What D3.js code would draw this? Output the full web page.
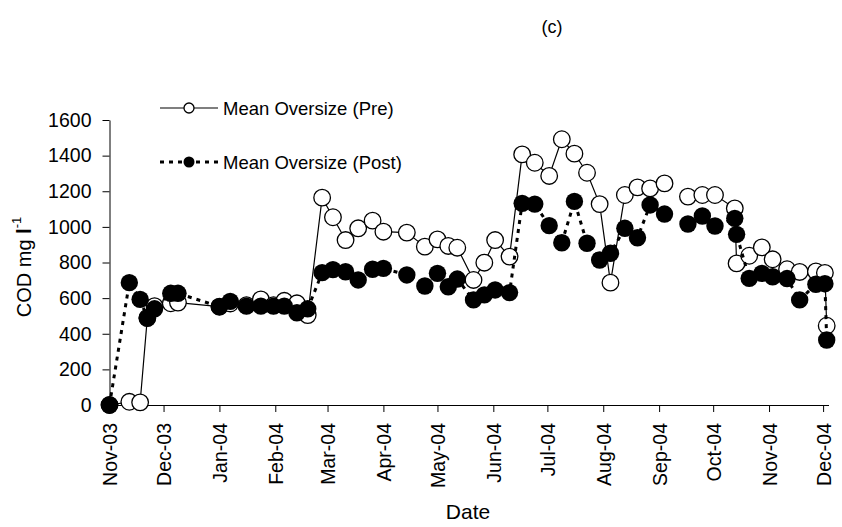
<!DOCTYPE html>
<html>
<head>
<meta charset="utf-8">
<title>COD mean oversize (c)</title>
<script src="https://cdn.jsdelivr.net/npm/d3@7"></script>
<style>
  body { margin: 0; background: #fff; font-family: Arial, "Liberation Sans", sans-serif; }
  .axis path, .axis line { stroke: #000; }
  .axis text { fill: #000; font-family: Arial, "Liberation Sans", sans-serif; }
</style>
</head>
<body>
<svg id="chart" width="842" height="527"></svg>
<script>
// sampling dates (the null row in the values = no sample, leaves a gap in both lines)
var dates = [
  "2003-11-01", "2003-11-12", "2003-11-18", "2003-11-22", "2003-11-26", "2003-12-05", "2003-12-09",
  "2004-01-01", "2004-01-07", "2004-01-16", "2004-01-24", "2004-01-31", "2004-02-06", "2004-02-13", "2004-02-19",
  "2004-02-27", "2004-03-04", "2004-03-11", "2004-03-18", "2004-03-26", "2004-04-01", "2004-04-14", "2004-04-24",
  "2004-05-01", "2004-05-07", "2004-05-12", "2004-05-21", "2004-05-27", "2004-06-02", "2004-06-10",
  "2004-06-17", "2004-06-24", "2004-07-02", "2004-07-09", "2004-07-16", "2004-07-23", "2004-07-30",
  "2004-08-05", "2004-08-13", "2004-08-20", "2004-08-27", "2004-09-04", "2004-09-10",
  "2004-09-17", "2004-09-25", "2004-10-02", "2004-10-13", "2004-10-14", "2004-10-21", "2004-10-28",
  "2004-11-03", "2004-11-11", "2004-11-18", "2004-11-27", "2004-12-02", "2004-12-03"
];

// COD (mg/l), mean oversize before treatment
var preValues = [
  0, 18, 15, 490, 555, 571, 575,
  552, 570, 560, 593, 560, 585, 571, 505,
  1164, 1054, 926, 992, 1035, 973, 968, 889,
  930, 893, 883, 702, 799, 926, 833,
  1407, 1360, 1286, 1492, 1411, 1304, 1128,
  687, 1179, 1222, 1216, 1244, null,
  1170, 1179, 1179, 1104, 795, 838, 885,
  818, 762, 747, 750, 742, 445
];

// COD (mg/l), mean oversize after treatment
var postValues = [
  0, 687, 593, 487, 540, 627, 627,
  552, 582, 555, 555, 555, 555, 518, 540,
  743, 760, 748, 702, 762, 767, 730, 668,
  739, 664, 707, 590, 618, 646, 631,
  1132, 1128, 1007, 911, 1143, 908, 814,
  852, 992, 939, 1123, 1072, null,
  1016, 1061, 1005, 1048, 958, 711, 739,
  720, 710, 590, 678, 681, 365
];

var yTicks = [0, 200, 400, 600, 800, 1000, 1200, 1400, 1600];
var seriesNames = ["Mean Oversize (Pre)", "Mean Oversize (Post)"];

var parse = d3.timeParse("%Y-%m-%d");
var rows = dates.map(function (d, i) {
  return { date: parse(d), pre: preValues[i], post: postValues[i] };
});

var svg = d3.select("#chart");
var plot = { left: 109.5, right: 828.5, top: 120, bottom: 405 };

var x = d3.scaleTime()
  .domain([parse("2003-11-01"), parse("2004-12-04")])
  .range([plot.left, plot.right]);

var y = d3.scaleLinear()
  .domain([0, 1600])
  .range([plot.bottom, plot.top]);

// x axis, monthly ticks, labels turned upright
var xAxis = d3.axisBottom(x)
  .ticks(d3.timeMonth.every(1))
  .tickFormat(d3.timeFormat("%b-%y"))
  .tickSize(7)
  .tickSizeOuter(0);

var gx = svg.append("g")
  .attr("class", "axis")
  .attr("transform", "translate(0," + plot.bottom + ")")
  .call(xAxis);
gx.selectAll("text")
  .attr("font-size", "19.5px")
  .attr("text-anchor", "end")
  .attr("transform", "rotate(-90)")
  .attr("x", -18)
  .attr("y", 0)
  .attr("dy", "0.36em");

// y axis
var yAxis = d3.axisLeft(y)
  .tickValues(yTicks)
  .tickFormat(d3.format("d"))
  .tickSize(7)
  .tickSizeOuter(0)
  .tickPadding(11);

var gy = svg.append("g")
  .attr("class", "axis")
  .attr("transform", "translate(" + plot.left + ",0)")
  .call(yAxis);
gy.selectAll("text").attr("font-size", "19.5px");

// lines
var linePre = d3.line()
  .defined(function (d) { return d.pre != null; })
  .x(function (d) { return x(d.date); })
  .y(function (d) { return y(d.pre); });

var linePost = d3.line()
  .defined(function (d) { return d.post != null; })
  .x(function (d) { return x(d.date); })
  .y(function (d) { return y(d.post); });

svg.append("path")
  .datum(rows)
  .attr("d", linePre)
  .attr("fill", "none")
  .attr("stroke", "#000")
  .attr("stroke-width", 1.2);

svg.append("g")
  .selectAll("circle")
  .data(rows.filter(function (d) { return d.pre != null; }))
  .join("circle")
  .attr("cx", function (d) { return x(d.date); })
  .attr("cy", function (d) { return y(d.pre); })
  .attr("r", 8.3)
  .attr("fill", "#fff")
  .attr("stroke", "#000")
  .attr("stroke-width", 1.3);

svg.append("path")
  .datum(rows)
  .attr("d", linePost)
  .attr("fill", "none")
  .attr("stroke", "#000")
  .attr("stroke-width", 3)
  .attr("stroke-dasharray", "4,5");

svg.append("g")
  .selectAll("circle")
  .data(rows.filter(function (d) { return d.post != null; }))
  .join("circle")
  .attr("cx", function (d) { return x(d.date); })
  .attr("cy", function (d) { return y(d.post); })
  .attr("r", 8.7)
  .attr("fill", "#000");

// legend
var legend = svg.append("g").attr("transform", "translate(160,108)");
legend.append("line")
  .attr("x1", 0).attr("x2", 58).attr("y1", 0).attr("y2", 0)
  .attr("stroke", "#000").attr("stroke-width", 1.2);
legend.append("circle")
  .attr("cx", 29).attr("cy", 0).attr("r", 5)
  .attr("fill", "#fff").attr("stroke", "#000").attr("stroke-width", 1.3);
legend.append("text")
  .attr("x", 63).attr("y", 6.5)
  .attr("font-size", "18.5px")
  .text(seriesNames[0]);

legend.append("line")
  .attr("x1", 0).attr("x2", 58).attr("y1", 54).attr("y2", 54)
  .attr("stroke", "#000").attr("stroke-width", 3)
  .attr("stroke-dasharray", "4,5");
legend.append("circle")
  .attr("cx", 29).attr("cy", 54).attr("r", 5.5)
  .attr("fill", "#000");
legend.append("text")
  .attr("x", 63).attr("y", 60.5)
  .attr("font-size", "18.5px")
  .text(seriesNames[1]);

// titles
svg.append("text")
  .attr("x", 552).attr("y", 33)
  .attr("text-anchor", "middle")
  .attr("font-size", "18px")
  .text("(c)");

svg.append("text")
  .attr("x", 468).attr("y", 519)
  .attr("text-anchor", "middle")
  .attr("font-size", "21px")
  .text("Date");

var yTitle = svg.append("text")
  .attr("transform", "translate(31,267) rotate(-90)")
  .attr("text-anchor", "middle")
  .attr("font-size", "20px");
yTitle.append("tspan").text("COD mg ");
yTitle.append("tspan").attr("font-weight", "bold").text("l");
yTitle.append("tspan").attr("font-size", "13px").attr("dy", "-0.75em").text("-1");
</script>
</body>
</html>
